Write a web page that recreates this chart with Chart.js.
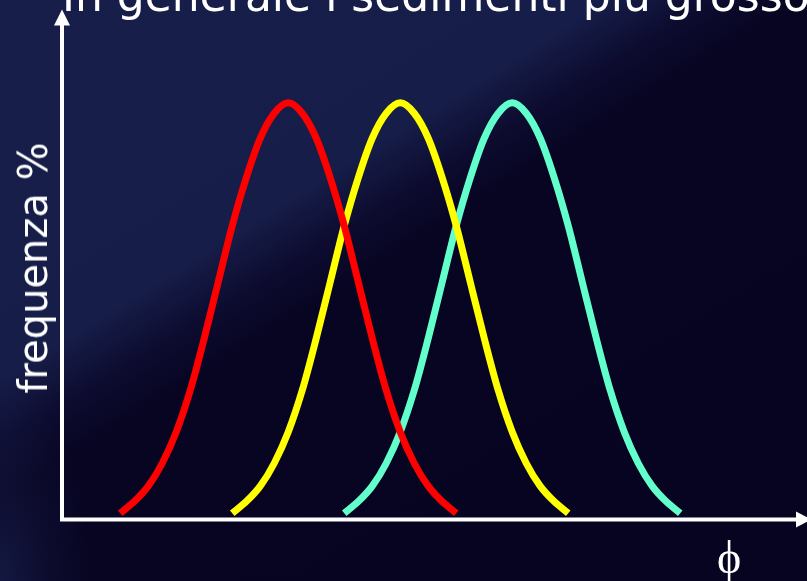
<!DOCTYPE html>
<html>
<head>
<meta charset="utf-8">
<script src="https://cdn.jsdelivr.net/npm/chart.js@4"></script>
<style>
  html, body { margin: 0; padding: 0; overflow: hidden; }
  body {
    width: 807px; height: 581px; position: relative;
    background:
      radial-gradient(ellipse 90px 200px at 0 581px, rgba(30,40,90,0.55), rgba(30,40,90,0.25) 45%, rgba(30,40,90,0) 100%),
      linear-gradient(148deg, #171e4a 0%, #161d48 35%, #0d0c30 41%, #080523 46%, #060420 100%);
  }
  #chart { position: absolute; left: 0; top: 0; }
  .txt { position: absolute; color: #fff; white-space: nowrap; }
  #title { left: 62px; top: -24px; font: 44px/40px "DejaVu Sans", sans-serif; }
  #ylab { left: 33px; top: 268px; font: 40px/40px "DejaVu Sans", sans-serif;
          transform: translate(-50%, -50%) rotate(-90deg); }
  #xlab { left: 729px; top: 558px; font: 46px/46px "Liberation Serif", "DejaVu Serif", serif;
          transform: translate(-50%, -50%); }
</style>
</head>
<body>
<canvas id="chart" width="807" height="581"></canvas>
<div class="txt" id="title">In generale i sedimenti più grossolani</div>
<div class="txt" id="ylab">frequenza %</div>
<div class="txt" id="xlab">ϕ</div>
<script>
// ── curves (phi units, frequency %) ──
const redPhi    = [1, 1.25, 1.5, 1.75, 2, 2.25, 2.5, 2.75, 3, 3.25, 3.5, 3.75, 4, 4.25, 4.5, 4.75, 5, 5.25, 5.5, 5.75, 6, 6.25, 6.5, 6.75, 7];
const redFreq   = [1.5, 4.3, 8, 13.5, 21, 31, 43.5, 57, 70.5, 82, 91.5, 97.5, 100, 97.5, 91.5, 82, 70.5, 57, 43.5, 31, 21, 13.5, 8, 4.3, 1.5];
const yellowPhi = [3, 3.25, 3.5, 3.75, 4, 4.25, 4.5, 4.75, 5, 5.25, 5.5, 5.75, 6, 6.25, 6.5, 6.75, 7, 7.25, 7.5, 7.75, 8, 8.25, 8.5, 8.75, 9];
const yellowFreq = [1.5, 4.3, 8, 13.5, 21, 31, 43.5, 57, 70.5, 82, 91.5, 97.5, 100, 97.5, 91.5, 82, 70.5, 57, 43.5, 31, 21, 13.5, 8, 4.3, 1.5];
const aquaPhi   = [5, 5.25, 5.5, 5.75, 6, 6.25, 6.5, 6.75, 7, 7.25, 7.5, 7.75, 8, 8.25, 8.5, 8.75, 9, 9.25, 9.5, 9.75, 10, 10.25, 10.5, 10.75, 11];
const aquaFreq  = [1.5, 4.3, 8, 13.5, 21, 31, 43.5, 57, 70.5, 82, 91.5, 97.5, 100, 97.5, 91.5, 82, 70.5, 57, 43.5, 31, 21, 13.5, 8, 4.3, 1.5];

const pts = (xs, ys) => xs.map((x, i) => ({ x, y: ys[i] }));

// white axes with arrow heads, drawn from the chart area
const arrowAxes = {
  id: "arrowAxes",
  beforeDatasetsDraw(chart) {
    const { ctx, chartArea: a, width } = chart;
    ctx.save();
    ctx.strokeStyle = "#fff"; ctx.fillStyle = "#fff"; ctx.lineWidth = 4;
    ctx.beginPath();
    ctx.moveTo(a.left, a.bottom); ctx.lineTo(a.left, a.top + 4);
    ctx.moveTo(a.left - 2, a.bottom); ctx.lineTo(width - 8, a.bottom);
    ctx.stroke();
    ctx.beginPath();           // up arrow
    ctx.moveTo(a.left, a.top - 10);
    ctx.lineTo(a.left - 8, a.top + 6);
    ctx.lineTo(a.left + 8, a.top + 6);
    ctx.fill();
    ctx.beginPath();           // right arrow
    ctx.moveTo(width + 4, a.bottom);
    ctx.lineTo(width - 11, a.bottom - 8);
    ctx.lineTo(width - 11, a.bottom + 8);
    ctx.fill();
    ctx.restore();
  }
};

const line = (data, color) => ({
  data, borderColor: color, borderWidth: 7, pointRadius: 0,
  cubicInterpolationMode: "monotone", fill: false
});

new Chart(document.getElementById("chart"), {
  type: "line",
  data: { datasets: [
    line(pts(redPhi, redFreq), "#ff0000"),
    line(pts(yellowPhi, yellowFreq), "#ffff00"),
    line(pts(aquaPhi, aquaFreq), "#62ffcc")
  ]},
  options: {
    responsive: false, animation: false,
    layout: { padding: { left: 62, right: 17, top: 19.5, bottom: 61.5 } },
    plugins: { legend: { display: false }, tooltip: { enabled: false } },
    scales: {
      x: { type: "linear", min: -0.04, max: 12.96, display: false },
      y: { min: 0, max: 120, display: false }
    }
  },
  plugins: [arrowAxes]
});
</script>
</body>
</html>
